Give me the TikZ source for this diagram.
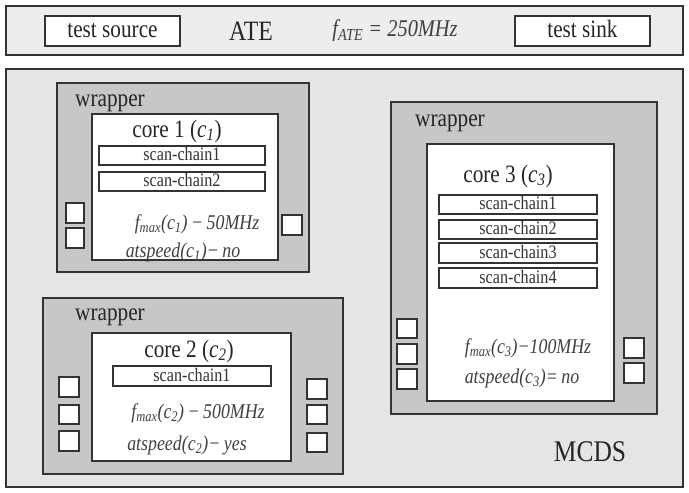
\documentclass[tikz,border=0pt]{standalone}
\usepackage{fontspec}
\setmainfont[FakeStretch=0.85]{Liberation Serif}
% rectangle node from its two corners: style, name, x1, y1, x2, y2, text
\newcommand\boxnode[7]{\node[#1, minimum width={(#5-#3)*1pt}, minimum height={(#6-#4)*1pt}] (#2) at ({(#3+#5)/2},{(#4+#6)/2}) {#7};}
\newcommand\fsz[1]{\fontsize{#1}{#1}\selectfont}
\begin{document}
\begin{tikzpicture}[x=1pt,y=-1pt,
  frame/.style={draw=black!80, line width=1.4pt, inner sep=0pt},
  outer/.style={frame, fill=black!7},
  bg/.style={frame, fill=black!10},
  wrap/.style={frame, fill=black!22, line width=1.2pt},
  core/.style={frame, fill=white, line width=1.2pt},
  chain/.style={frame, fill=white, line width=1.2pt, font=\fsz{19}, text=black!80,
    text height=13pt, text depth=3pt},
  port/.style={frame, fill=white, line width=1.2pt},
  tool/.style={frame, fill=white, line width=1.3pt, font=\fsz{25}, text=black!85,
    text height=15pt, text depth=3pt},
  lbl/.style={inner sep=0pt, text=black!85, font=\fsz{25}},
  spec/.style={inner sep=0pt, text=black!75, font=\fsz{21}\itshape}]
\useasboundingbox (0,0) rectangle (689,493);

% tester
\boxnode{outer}{ate}{6}{6}{683}{55}{}
\boxnode{tool}{src}{45}{16}{180}{46}{test source}
\boxnode{tool}{sink}{515}{16}{650}{46}{test sink}
\node[lbl, font=\fsz{28}] (atelbl) at (251,31) {ATE};
\node[spec, font=\fsz{24}\itshape] (fate) at (395,31) {f\textsubscript{ATE} = 250MHz};

% system under test
\boxnode{bg}{mcds}{6}{69}{683}{487}{}
\node[lbl, font=\fsz{30}] (mcdslbl) at (590,452) {MCDS};

% core 1
\boxnode{wrap}{w1}{57}{83}{309}{272}{}
\boxnode{core}{c1}{92}{114}{278}{260}{}
\node[lbl] (w1lbl) at (110,103) {wrapper};
\node[lbl] (c1lbl) at (177,131) {core 1 (\textit{c}\textsubscript{\textit{1}})};
\boxnode{chain}{c1s1}{99}{146}{265}{165}{scan-chain1}
\boxnode{chain}{c1s2}{99}{172}{265}{191}{scan-chain2}
\boxnode{port}{w1l1}{66}{203}{84}{223}{}
\boxnode{port}{w1l2}{66}{228}{84}{248}{}
\boxnode{port}{w1r1}{282}{215}{302}{235}{}
\node[spec] (c1f) at (197,224) {f\textsubscript{max}(c\textsubscript{1})\,−\,50MHz};
\node[spec] (c1a) at (183,252) {atspeed(c\textsubscript{1})−\,no};

% core 2
\boxnode{wrap}{w2}{43}{298}{343}{474}{}
\boxnode{core}{c2}{92}{333}{291}{461}{}
\node[lbl] (w2lbl) at (110,317) {wrapper};
\node[lbl] (c2lbl) at (189,351) {core 2 (\textit{c}\textsubscript{\textit{2}})};
\boxnode{chain}{c2s1}{113}{366}{271}{386}{scan-chain1}
\boxnode{port}{w2l1}{59}{377}{79}{397}{}
\boxnode{port}{w2l2}{59}{405}{79}{424}{}
\boxnode{port}{w2l3}{59}{431}{79}{451}{}
\boxnode{port}{w2r1}{307}{379}{327}{399}{}
\boxnode{port}{w2r2}{307}{405}{327}{424}{}
\boxnode{port}{w2r3}{307}{433}{327}{452}{}
\node[spec] (c2f) at (198,413) {f\textsubscript{max}(c\textsubscript{2})\,−\,500MHz};
\node[spec] (c2a) at (187,445) {atspeed(c\textsubscript{2})−\,yes};

% core 3
\boxnode{wrap}{w3}{391}{102}{657}{414}{}
\boxnode{core}{c3}{427}{144}{614}{401}{}
\node[lbl] (w3lbl) at (450,123) {wrapper};
\node[lbl] (c3lbl) at (508,176) {core 3 (\textit{c}\textsubscript{\textit{3}})};
\boxnode{chain}{c3s1}{439}{195}{597}{214}{scan-chain1}
\boxnode{chain}{c3s2}{439}{220}{597}{239}{scan-chain2}
\boxnode{chain}{c3s3}{439}{243}{597}{263}{scan-chain3}
\boxnode{chain}{c3s4}{439}{268}{597}{288}{scan-chain4}
\boxnode{port}{w3l1}{397}{319}{417}{338}{}
\boxnode{port}{w3l2}{397}{344}{417}{364}{}
\boxnode{port}{w3l3}{397}{369}{417}{389}{}
\boxnode{port}{w3r1}{624}{338}{644}{358}{}
\boxnode{port}{w3r2}{624}{363}{644}{383}{}
\node[spec] (c3f) at (528,348) {f\textsubscript{max}(c\textsubscript{3})−100MHz};
\node[spec] (c3a) at (522,378) {atspeed(c\textsubscript{3})=\,no};
\end{tikzpicture}
\end{document}
